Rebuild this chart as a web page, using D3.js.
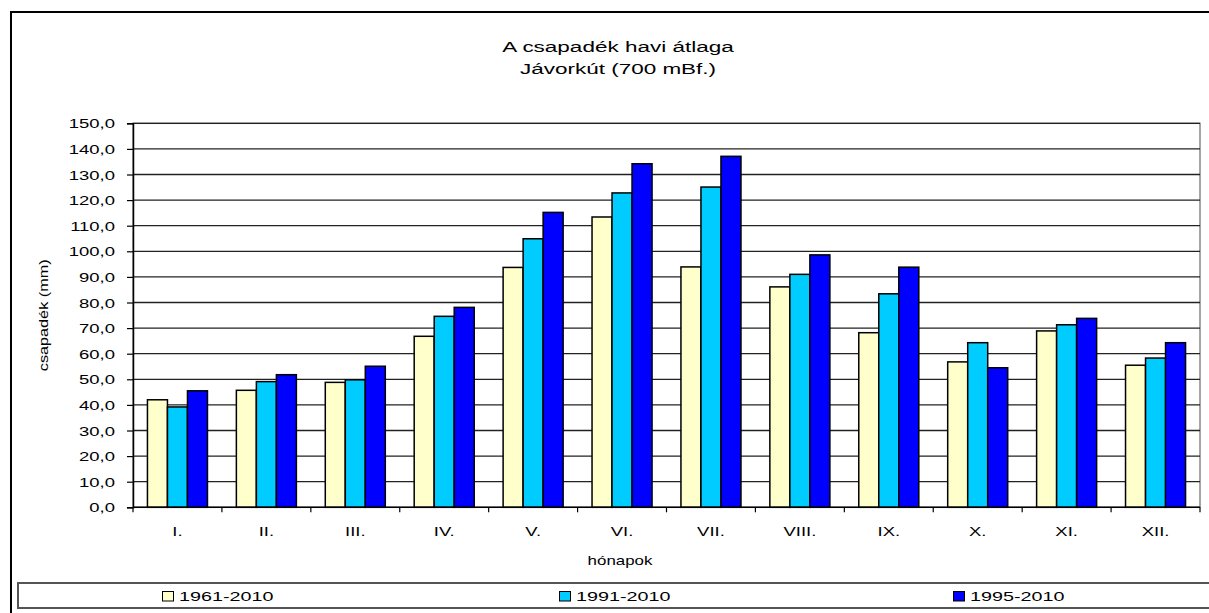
<!DOCTYPE html>
<html>
<head>
<meta charset="utf-8">
<script src="https://cdn.jsdelivr.net/npm/d3@7"></script>
<style>
  html, body { margin: 0; padding: 0; background: #fff; }
  svg { display: block; font-family: Arial, "Liberation Sans", sans-serif; }
</style>
</head>
<body>
<svg id="chart" width="1209" height="613"></svg>
<script>
// Monthly precipitation averages, Jávorkút (700 mBf.)
const months = ["I.", "II.", "III.", "IV.", "V.", "VI.", "VII.", "VIII.", "IX.", "X.", "XI.", "XII."];
const seriesNames = ["1961-2010", "1991-2010", "1995-2010"];
const values1961 = [42.0, 45.7, 48.8, 66.8, 93.7, 113.4, 93.9, 86.1, 68.2, 56.8, 68.9, 55.5];
const values1991 = [39.2, 49.1, 49.8, 74.6, 104.9, 122.8, 125.1, 91.0, 83.4, 64.3, 71.3, 58.3];
const values1995 = [45.5, 51.8, 55.1, 78.1, 115.2, 134.2, 137.1, 98.6, 93.8, 54.5, 73.8, 64.3];
const yTicks = [0, 10, 20, 30, 40, 50, 60, 70, 80, 90, 100, 110, 120, 130, 140, 150];
const colors = ["#FFFFCC", "#00CCFF", "#0000FF"];

const allSeries = [values1961, values1991, values1995];

const svg = d3.select("#chart");
const plot = { left: 133, right: 1200, top: 123.3, bottom: 507.3 };

// Text drawn with a horizontal stretch (wide sans look)
function wideText(parent, str, x, y, size, sx, anchor) {
  return parent.append("text")
    .attr("transform", `translate(${x},${y}) scale(${sx},1)`)
    .attr("text-anchor", anchor || "start")
    .attr("font-size", size)
    .attr("fill", "#000")
    .text(str);
}

// Outer chart frame (runs off the right and bottom edges)
svg.append("rect")
  .attr("x", 11).attr("y", 12)
  .attr("width", 1240).attr("height", 640)
  .attr("fill", "#fff").attr("stroke", "#000").attr("stroke-width", 2);

// Title
wideText(svg, "A csapadék havi átlaga", 618, 52, 15, 1.5, "middle");
wideText(svg, "Jávorkút (700 mBf.)", 618, 74, 15, 1.5, "middle");

const x = d3.scaleBand()
  .domain(months)
  .range([plot.left, plot.right])
  .paddingInner(0.325)
  .paddingOuter(0.1625);

const x1 = d3.scaleBand()
  .domain(d3.range(seriesNames.length))
  .range([0, x.bandwidth()])
  .padding(0);

// category band bounds for the tick marks between months
const xb = d3.scaleBand().domain(months).range([plot.left, plot.right]);

const y = d3.scaleLinear().domain([0, 150]).range([plot.bottom, plot.top]);

// Plot area border
svg.append("rect")
  .attr("x", plot.left).attr("y", plot.top)
  .attr("width", plot.right - plot.left).attr("height", plot.bottom - plot.top)
  .attr("fill", "#fff").attr("stroke", "#888").attr("stroke-width", 1.5);

// Horizontal gridlines
svg.append("g")
  .selectAll("line")
  .data(yTicks.filter(d => d > 0))
  .join("line")
  .attr("x1", plot.left).attr("x2", plot.right)
  .attr("y1", d => y(d)).attr("y2", d => y(d))
  .attr("stroke", "#222").attr("stroke-width", 1.3);

// Bars
const groups = svg.append("g")
  .selectAll("g")
  .data(months)
  .join("g")
  .attr("transform", d => `translate(${x(d)},0)`);

groups.selectAll("rect")
  .data((m, i) => allSeries.map((s, k) => ({ k, v: s[i] })))
  .join("rect")
  .attr("x", d => x1(d.k))
  .attr("width", x1.bandwidth())
  .attr("y", d => y(d.v))
  .attr("height", d => y(0) - y(d.v))
  .attr("fill", d => colors[d.k])
  .attr("stroke", "#000")
  .attr("stroke-width", 1.5);

// Y axis
const tickSx = 1.42;
const yAxis = d3.axisLeft(y)
  .tickValues(yTicks)
  .tickSize(6)
  .tickFormat(d => d3.format(".1f")(d).replace(".", ","));

const gy = svg.append("g")
  .attr("transform", `translate(${plot.left},0)`)
  .call(yAxis);
gy.select(".domain").attr("stroke", "#000").attr("stroke-width", 1.5);
gy.selectAll(".tick line").attr("stroke", "#000").attr("stroke-width", 1.2);
gy.selectAll(".tick text")
  .attr("font-size", 13)
  .attr("fill", "#000")
  .attr("font-family", "Arial, 'Liberation Sans', sans-serif")
  .attr("x", -18 / tickSx)
  .attr("dy", "0.36em")
  .attr("transform", `scale(${tickSx},1)`);

// X axis: line, ticks between categories, labels centred
svg.append("line")
  .attr("x1", plot.left).attr("x2", plot.right)
  .attr("y1", plot.bottom).attr("y2", plot.bottom)
  .attr("stroke", "#000").attr("stroke-width", 1.5);

svg.append("g")
  .selectAll("line")
  .data(months.concat(["end"]))
  .join("line")
  .attr("x1", (d, i) => i < months.length ? xb(d) : plot.right)
  .attr("x2", (d, i) => i < months.length ? xb(d) : plot.right)
  .attr("y1", plot.bottom).attr("y2", plot.bottom + 5)
  .attr("stroke", "#000").attr("stroke-width", 1.2);

const gx = svg.append("g");
months.forEach(m => {
  wideText(gx, m, x(m) + x.bandwidth() / 2, 536, 13, tickSx, "middle");
});

// Axis titles
wideText(svg, "hónapok", 620, 565, 13, 1.3, "middle");

svg.append("text")
  .attr("transform", `translate(48,${(plot.top + plot.bottom) / 2}) rotate(-90) scale(1.25,1)`)
  .attr("text-anchor", "middle")
  .attr("font-size", 13)
  .attr("fill", "#000")
  .text("csapadék (mm)");

// Legend
svg.append("rect")
  .attr("x", 18).attr("y", 583)
  .attr("width", 1220).attr("height", 25)
  .attr("fill", "#fff").attr("stroke", "#555").attr("stroke-width", 2);

const legendX = [162, 559, 953];
const lg = svg.append("g")
  .selectAll("g")
  .data(seriesNames)
  .join("g")
  .attr("transform", (d, i) => `translate(${legendX[i]},591.5)`);

lg.append("rect")
  .attr("x", 0.5).attr("y", 0)
  .attr("width", 11).attr("height", 9.5)
  .attr("fill", (d, i) => colors[i])
  .attr("stroke", "#000").attr("stroke-width", 1);

lg.each(function (d) {
  wideText(d3.select(this), d, 17, 9.5, 12.5, 1.58, "start");
});
</script>
</body>
</html>
